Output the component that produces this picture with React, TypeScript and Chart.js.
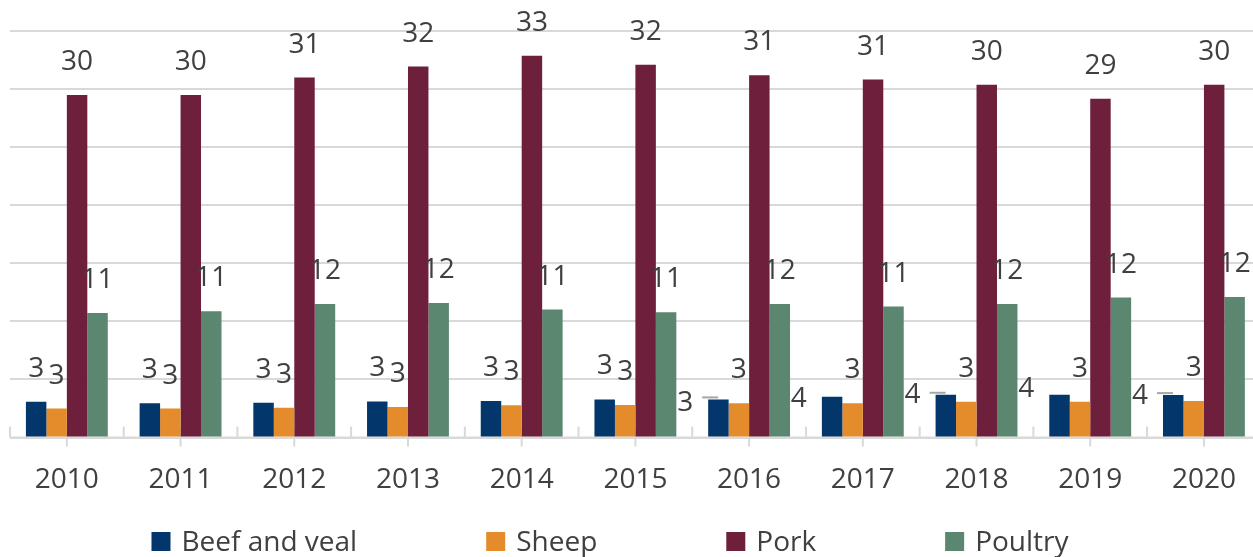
import { useEffect, useRef } from 'react';
import { Chart, registerables } from 'chart.js';

Chart.register(...registerables);

// ---- data ----
const years = ['2010', '2011', '2012', '2013', '2014', '2015', '2016', '2017', '2018', '2019', '2020'];
const beefAndVeal = [3.08, 2.94, 2.99, 3.11, 3.14, 3.28, 3.28, 3.5, 3.68, 3.68, 3.65];
const sheep = [2.5, 2.5, 2.56, 2.62, 2.77, 2.79, 2.94, 2.94, 3.08, 3.08, 3.14];
const pork = [29.5, 29.5, 31.0, 31.94, 32.86, 32.09, 31.19, 30.83, 30.37, 29.17, 30.37];
const poultry = [10.73, 10.88, 11.5, 11.59, 11.02, 10.79, 11.5, 11.28, 11.5, 12.05, 12.1];
const seriesNames = ['Beef and veal', 'Sheep', 'Pork', 'Poultry'];
const yMax = 35;
const yStep = 5;

// ---- styles ----
const COLORS = ['#03366a', '#e48c2b', '#6d1f3c', '#5b8770'];
const TEXT = '#404040';
const GRID = '#d9d9d9';
const FONT = '"Open Sans", "Noto Sans", sans-serif';
const FS = 28;

// beef labels from 2016 on sit to the left of their bar (index offset -> dy)
const BEEF_LEFT_FROM = 6;
const BEEF_LEFT_DY = [2, 0, -2, -8, -1];
const BEEF_LEADER = [true, false, true, false, true];

const labelsPlugin = {
  id: 'barLabels',
  afterDatasetsDraw(chart: any) {
    const ctx = chart.ctx;
    ctx.save();
    ctx.font = `${FS}px ${FONT}`;
    ctx.fillStyle = TEXT;
    ctx.textAlign = 'center';
    ctx.textBaseline = 'alphabetic';
    chart.data.datasets.forEach((ds: any, di: number) => {
      const meta = chart.getDatasetMeta(di);
      meta.data.forEach((el: any, i: number) => {
        const v = ds.data[i];
        const txt = String(Math.round(v));
        if (di === 0 && i >= BEEF_LEFT_FROM) {
          const k = i - BEEF_LEFT_FROM;
          const left = el.x - el.width / 2;
          if (BEEF_LEADER[k]) {
            ctx.save();
            ctx.strokeStyle = '#a6a6a6';
            ctx.lineWidth = 2;
            ctx.beginPath();
            ctx.moveTo(left - 6, el.y - 2);
            ctx.lineTo(left + 10, el.y - 2);
            ctx.stroke();
            ctx.restore();
          }
          ctx.fillText(txt, left - 23, el.y + BEEF_LEFT_DY[k] + FS * 0.36);
        } else {
          ctx.fillText(txt, el.x, el.y - 35 + FS * 0.36);
        }
      });
    });
    ctx.restore();
  },
};

const ticksPlugin = {
  id: 'catTicks',
  beforeDatasetsDraw(chart: any) {
    const ctx = chart.ctx;
    const xs = chart.scales.x;
    const bottom = chart.chartArea.bottom;
    const n = chart.data.labels.length;
    const w = (chart.chartArea.right - chart.chartArea.left) / n;
    ctx.save();
    ctx.strokeStyle = GRID;
    ctx.lineWidth = 2;
    ctx.beginPath();
    for (let i = 0; i < n; i++) {
      const c = xs.getPixelForValue(i);
      const b = c - w / 2;
      ctx.moveTo(b, bottom - 11);
      ctx.lineTo(b, bottom);
      ctx.moveTo(c, bottom - 8);
      ctx.lineTo(c, bottom + 9);
    }
    ctx.moveTo(chart.chartArea.left, bottom);
    ctx.lineTo(chart.chartArea.right, bottom);
    ctx.stroke();
    ctx.restore();
  },
};

const legendPlugin = {
  id: 'customLegend',
  afterDraw(chart: any) {
    const ctx = chart.ctx;
    ctx.save();
    ctx.font = `${FS}px ${FONT}`;
    const box = 19;
    const gapBox = 11;
    const gapItem = 129;
    const widths = seriesNames.map((s) => box + gapBox + ctx.measureText(s).width);
    const total = widths.reduce((a, b) => a + b, 0) + gapItem * (seriesNames.length - 1);
    let x = 610 - total / 2;
    const baseline = 551;
    seriesNames.forEach((s, i) => {
      ctx.fillStyle = COLORS[i];
      ctx.fillRect(x, 532, box, box);
      ctx.fillStyle = TEXT;
      ctx.textAlign = 'left';
      ctx.textBaseline = 'alphabetic';
      ctx.fillText(s, x + box + gapBox, baseline);
      x += widths[i] + gapItem;
    });
    ctx.restore();
  },
};

export default function App() {
  const ref = useRef<HTMLCanvasElement>(null);
  useEffect(() => {
    if (!ref.current) return;
    const chart = new Chart(ref.current, {
      type: 'bar',
      data: {
        labels: years,
        datasets: [beefAndVeal, sheep, pork, poultry].map((d, i) => ({
          label: seriesNames[i],
          data: d,
          backgroundColor: COLORS[i],
          borderWidth: 0,
          categoryPercentage: 0.72,
          barPercentage: 1,
        })),
      },
      options: {
        responsive: false,
        animation: false,
        layout: { padding: { left: 10, right: 1, top: 31, bottom: 0 } },
        plugins: {
          legend: { display: false },
          tooltip: { enabled: false },
          title: { display: false },
        },
        scales: {
          x: {
            grid: { display: false, drawTicks: false },
            border: { display: false },
            ticks: {
              font: { family: FONT, size: FS },
              color: TEXT,
              padding: 26,
              maxRotation: 0,
              autoSkip: false,
            },
            afterFit: (s: any) => {
              s.height = 119.5;
            },
          },
          y: {
            min: 0,
            max: yMax,
            ticks: { stepSize: yStep, display: false },
            grid: { color: GRID, lineWidth: 2, drawTicks: false },
            border: { display: false },
            afterFit: (s: any) => {
              s.width = 0;
            },
          },
        },
      } as any,
      plugins: [ticksPlugin, labelsPlugin, legendPlugin],
    });
    return () => chart.destroy();
  }, []);
  return (
    <div style={{ position: 'fixed', left: 0, top: 0, width: 1253, height: 557, overflow: 'hidden', background: '#fff' }}>
      <canvas ref={ref} width={1262} height={557} style={{ display: 'block' }} />
    </div>
  );
}
